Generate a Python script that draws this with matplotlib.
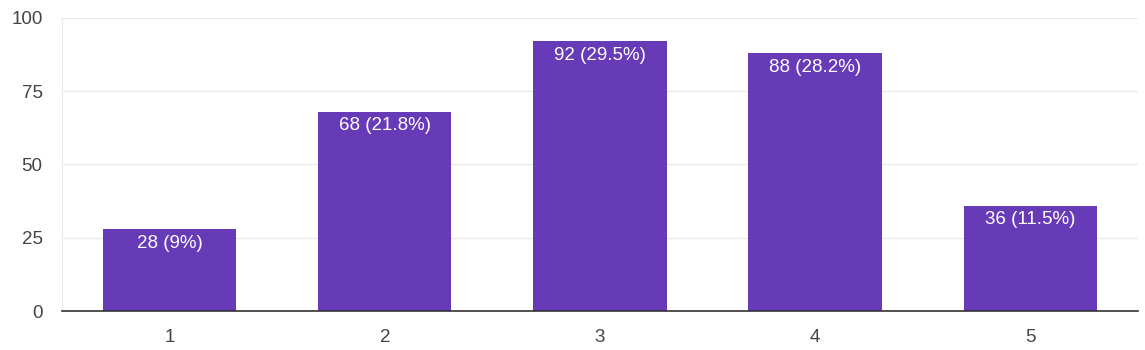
import matplotlib
matplotlib.use('Agg')
import matplotlib.pyplot as plt

# data
categories = ['1', '2', '3', '4', '5']
counts = [28, 68, 92, 88, 36]
percents = ['9%', '21.8%', '29.5%', '28.2%', '11.5%']
yticks = [0, 25, 50, 75, 100]

BAR_COLOR = '#673ab7'

plt.rcParams['font.family'] = ['Liberation Sans', 'DejaVu Sans']

fig = plt.figure(figsize=(11.45, 3.5), dpi=100)
ax = fig.add_axes([0.0541, 0.1114, 0.9398, 0.8372])

x = list(range(1, len(categories) + 1))
bars = ax.bar(x, counts, width=0.62, color=BAR_COLOR, zorder=3)

# value labels inside the bars
for xi, c, p in zip(x, counts, percents):
    ax.annotate(f'{c} ({p})', xy=(xi, c), xytext=(0, -4), textcoords='offset points',
                ha='center', va='top', color='white', fontsize=13.5, zorder=4)

ax.set_xlim(0.5, 5.5)
ax.set_ylim(0, 100)
ax.set_xticks(x)
ax.set_xticklabels(categories)
ax.set_yticks(yticks)

ax.grid(axis='y', color='#ebebeb', linewidth=1, zorder=0)
ax.tick_params(axis='both', length=0, labelsize=13.5, labelcolor='#444444')
ax.tick_params(axis='y', pad=14)
ax.tick_params(axis='x', pad=13)

for side in ['top', 'right']:
    ax.spines[side].set_visible(False)
ax.spines['left'].set_color('#ebebeb')
ax.spines['bottom'].set_color('#333333')
ax.spines['bottom'].set_linewidth(1.2)
ax.spines['bottom'].set_zorder(5)

fig.savefig('out.png', dpi=100)
